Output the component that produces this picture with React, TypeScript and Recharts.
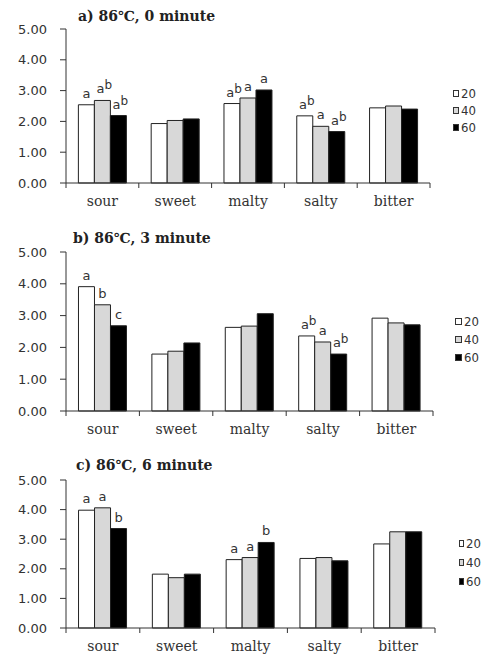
import React from 'react';
import { BarChart, Bar, XAxis, YAxis, Legend, LabelList } from 'recharts';

const tastes = ['sour', 'sweet', 'malty', 'salty', 'bitter'];
const yTicks = [0, 1, 2, 3, 4, 5];
const legendNames = ['20', '40', '60'];

// a) 86℃, 0 minute
const a20 = [2.54, 1.93, 2.58, 2.18, 2.44];
const a40 = [2.68, 2.03, 2.76, 1.84, 2.5];
const a60 = [2.19, 2.08, 3.02, 1.67, 2.4];
const aSig20 = ['a', '', 'ab', 'ab', ''];
const aSig40 = ['ab', '', 'a', 'a', ''];
const aSig60 = ['ab', '', 'a', 'ab', ''];

// b) 86℃, 3 minute
const b20 = [3.91, 1.79, 2.63, 2.36, 2.92];
const b40 = [3.34, 1.88, 2.67, 2.17, 2.77];
const b60 = [2.68, 2.14, 3.06, 1.79, 2.71];
const bSig20 = ['a', '', '', 'ab', ''];
const bSig40 = ['b', '', '', 'a', ''];
const bSig60 = ['c', '', '', 'ab', ''];

// c) 86℃, 6 minute
const c20 = [3.98, 1.82, 2.31, 2.35, 2.84];
const c40 = [4.06, 1.7, 2.38, 2.38, 3.25];
const c60 = [3.36, 1.82, 2.89, 2.27, 3.25];
const cSig20 = ['a', '', 'a', '', ''];
const cSig40 = ['a', '', 'a', '', ''];
const cSig60 = ['b', '', 'b', '', ''];

const rows = (v20: number[], v40: number[], v60: number[], s20: string[], s40: string[], s60: string[]) =>
  tastes.map((t, i) => ({ taste: t, v20: v20[i], v40: v40[i], v60: v60[i], s20: s20[i], s40: s40[i], s60: s60[i] }));

const fills = ['#ffffff', '#d8d8d8', '#000000'];
const INK = '#333';
const PLOT_LEFT = 66;
const W = 481;
const LEGEND_W = 46;

function SigLabel(props: any) {
  const { x, y, width, value } = props;
  if (!value) return null;
  const cx = Number(x) + Number(width) / 2;
  const ty = Number(y) - 7;
  if (value.length === 2) {
    return (
      <text x={cx + 2} y={ty} textAnchor="middle" fontSize={13} fill={INK} fontFamily="DejaVu Sans">
        <tspan>{value[0]}</tspan>
        <tspan dy={-4} fontSize={12}>{value[1]}</tspan>
      </text>
    );
  }
  return (
    <text x={cx} y={ty} textAnchor="middle" fontSize={13} fill={INK} fontFamily="DejaVu Sans">
      {value}
    </text>
  );
}

function makeTick(band: number) {
  return (props: any) => {
    const { x, y, payload, index } = props;
    const left = x - band / 2;
    return (
      <g>
        <line x1={left} y1={y} x2={left} y2={y + 5} stroke={INK} />
        {index === tastes.length - 1 && <line x1={x + band / 2} y1={y} x2={x + band / 2} y2={y + 5} stroke={INK} />}
        <text x={x} y={y + 22.5} textAnchor="middle" fontSize={14} fill={INK} fontFamily="DejaVu Serif">
          {payload.value}
        </text>
      </g>
    );
  };
}

function makeLegend(padLeft: number, rowH: number) {
  return () => (
    <div style={{ width: LEGEND_W, paddingLeft: padLeft, boxSizing: 'border-box', whiteSpace: 'nowrap' }}>
      {legendNames.map((n, i) => (
        <div key={n} style={{ display: 'flex', alignItems: 'center', height: rowH }}>
          <span style={{ width: 7, height: 7, boxSizing: 'border-box', border: `1px solid ${INK}`, background: fills[i], marginRight: 2 }} />
          <span style={{ fontFamily: 'DejaVu Sans Condensed', fontSize: 13, color: INK }}>{n}</span>
        </div>
      ))}
    </div>
  );
}

interface PanelProps {
  title: string;
  titleX: number;
  titleY: number;
  top: number;
  plotTop: number;
  plotBottom: number;
  plotRight: number;
  legendTop: number;
  legendPad: number;
  legendRow: number;
  data: ReturnType<typeof rows>;
}

function Panel(p: PanelProps) {
  const height = p.plotBottom - p.top + 32;
  const band = (p.plotRight - PLOT_LEFT) / tastes.length;
  return (
    <>
      <div style={{ position: 'absolute', left: p.titleX, top: p.titleY, fontFamily: 'DejaVu Serif', fontWeight: 'bold', fontSize: 14, color: '#222', whiteSpace: 'nowrap' }}>
        {p.title}
      </div>
      <div style={{ position: 'absolute', left: 0, top: p.top }}>
        <BarChart
          width={W}
          height={height}
          data={p.data}
          margin={{ top: p.plotTop - p.top, right: W - p.plotRight - LEGEND_W, bottom: 2, left: 6 }}
          barCategoryGap="17%"
          barGap={0}
        >
          <XAxis
            dataKey="taste"
            height={30}
            axisLine={{ stroke: INK }}
            tickLine={false}
            tickSize={0}
            tickMargin={0}
            interval={0}
            tick={makeTick(band)}
          />
          <YAxis
            width={60}
            domain={[0, 5]}
            ticks={yTicks}
            interval={0}
            tickFormatter={(v: number) => v.toFixed(2)}
            axisLine={{ stroke: INK }}
            tickLine={{ stroke: INK }}
            tickSize={6}
            tickMargin={13}
            tick={{ fontSize: 13, fill: INK, fontFamily: 'DejaVu Sans' }}
          />
          <Legend
            layout="vertical"
            align="right"
            verticalAlign="middle"
            content={makeLegend(p.legendPad, p.legendRow)}
            wrapperStyle={{ top: p.legendTop - p.top, width: LEGEND_W }}
          />
          <Bar dataKey="v20" name="20" fill={fills[0]} stroke="#222" strokeWidth={1} isAnimationActive={false}>
            <LabelList dataKey="s20" content={SigLabel} />
          </Bar>
          <Bar dataKey="v40" name="40" fill={fills[1]} stroke="#222" strokeWidth={1} isAnimationActive={false}>
            <LabelList dataKey="s40" content={SigLabel} />
          </Bar>
          <Bar dataKey="v60" name="60" fill={fills[2]} stroke="#222" strokeWidth={1} isAnimationActive={false}>
            <LabelList dataKey="s60" content={SigLabel} />
          </Bar>
        </BarChart>
      </div>
    </>
  );
}

export default function App() {
  return (
    <div style={{ position: 'absolute', left: 0, top: 0, width: W, height: 655, overflow: 'hidden', background: '#fff' }}>
      <Panel
        title="a) 86℃, 0 minute"
        titleX={78} titleY={8}
        top={0} plotTop={29} plotBottom={183} plotRight={430}
        legendTop={85} legendPad={23} legendRow={17}
        data={rows(a20, a40, a60, aSig20, aSig40, aSig60)}
      />
      <Panel
        title="b) 86℃, 3 minute"
        titleX={73} titleY={230}
        top={225} plotTop={252} plotBottom={411} plotRight={433}
        legendTop={312} legendPad={22} legendRow={18}
        data={rows(b20, b40, b60, bSig20, bSig40, bSig60)}
      />
      <Panel
        title="c) 86℃, 6 minute"
        titleX={76} titleY={457}
        top={445} plotTop={480} plotBottom={628} plotRight={435}
        legendTop={534} legendPad={24} legendRow={19}
        data={rows(c20, c40, c60, cSig20, cSig40, cSig60)}
      />
    </div>
  );
}
